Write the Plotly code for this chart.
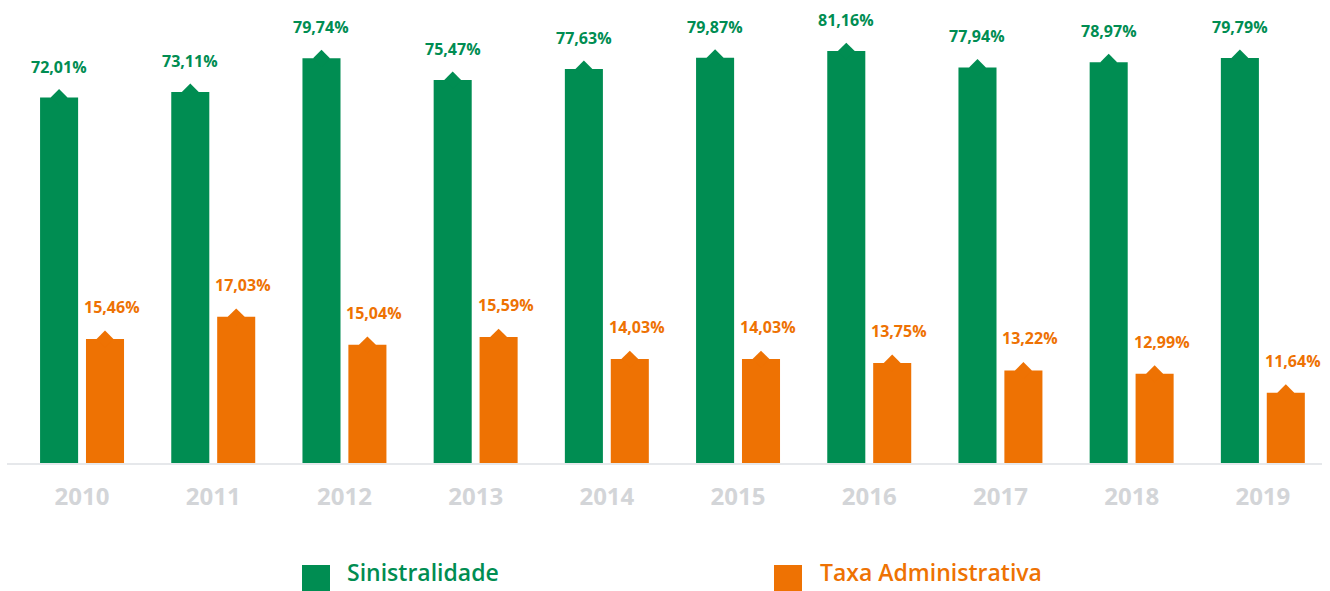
import plotly.graph_objects as go

years = ["2010", "2011", "2012", "2013", "2014", "2015", "2016", "2017", "2018", "2019"]
sinistralidade = [72.01, 73.11, 79.74, 75.47, 77.63, 79.87, 81.16, 77.94, 78.97, 79.79]
taxa_adm = [15.46, 17.03, 15.04, 15.59, 14.03, 14.03, 13.75, 13.22, 12.99, 11.64]
series_names = ["Sinistralidade", "Taxa Administrativa"]

GREEN = "#008D52"
ORANGE = "#EE7203"
GRAY = "#D3D5D8"
FONT = "Open Sans"

W, H = 1330, 591
ML, MR, MT, MB = 7, 8, 0, 128
PW, PH = W - ML - MR, H - MT - MB

idx = list(range(len(years)))
off = 0.175
bw = 0.29
xg = [i - off for i in idx]
xo = [i + off for i in idx]

def fmt(v):
    return f"{v:.2f}".replace(".", ",") + "%"

fig = go.Figure()
fig.add_trace(go.Bar(x=xg, y=sinistralidade, width=bw, marker=dict(color=GREEN, line=dict(width=0)),
                     name=series_names[0], yaxis="y", hoverinfo="skip"))
fig.add_trace(go.Bar(x=xo, y=taxa_adm, width=bw, marker=dict(color=ORANGE, line=dict(width=0)),
                     name=series_names[1], yaxis="y2", hoverinfo="skip"))
fig.add_trace(go.Scatter(x=xg, y=sinistralidade, mode="markers", yaxis="y",
                         marker=dict(symbol="diamond", size=13, color=GREEN, line=dict(width=0)),
                         cliponaxis=False, hoverinfo="skip", showlegend=False))
fig.add_trace(go.Scatter(x=xo, y=taxa_adm, mode="markers", yaxis="y2",
                         marker=dict(symbol="diamond", size=13, color=ORANGE, line=dict(width=0)),
                         cliponaxis=False, hoverinfo="skip", showlegend=False))

annotations = []
for x, v in zip(xg, sinistralidade):
    annotations.append(dict(x=x, y=v, xref="x", yref="y", text=fmt(v), showarrow=False,
                            yanchor="middle", yshift=31,
                            font=dict(family=FONT, size=16, color=GREEN, weight=700)))
for x, v in zip(xo, taxa_adm):
    annotations.append(dict(x=x, y=v, xref="x", yref="y2", text=fmt(v), showarrow=False,
                            yanchor="middle", yshift=32, xshift=7,
                            font=dict(family=FONT, size=16, color=ORANGE, weight=700)))

# legend (manual, large squares)
def px_x(p):
    return (p - ML) / PW

def px_y(p):
    return (H - MB - p) / PH

shapes = []
legend_items = [(series_names[0], GREEN, 302, 345), (series_names[1], ORANGE, 774, 818)]
for name, col, sx, tx in legend_items:
    shapes.append(dict(type="rect", xref="paper", yref="paper",
                       x0=px_x(sx), x1=px_x(sx + 28), y0=px_y(593), y1=px_y(565),
                       fillcolor=col, line=dict(width=0), layer="above"))
    annotations.append(dict(x=px_x(tx), y=px_y(590), xref="paper", yref="paper", text=name,
                            showarrow=False, xanchor="left", yanchor="bottom",
                            font=dict(family=FONT, size=23, color=col, weight=600)))

fig.update_layout(
    width=W, height=H,
    margin=dict(l=ML, r=MR, t=MT, b=MB),
    plot_bgcolor="white", paper_bgcolor="white",
    barmode="overlay",
    showlegend=False,
    xaxis=dict(range=[-0.572, -0.572 + PW / 131.2], tickmode="array", tickvals=idx, ticktext=years,
               showgrid=False, zeroline=False, showline=True, linecolor="#E6E8EB", linewidth=2,
               ticks="", ticklabelstandoff=11,
               tickfont=dict(family=FONT, size=24, color=GRAY, weight=700)),
    yaxis=dict(range=[0, PH / 5.075], visible=False, showgrid=False, zeroline=False),
    yaxis2=dict(range=[6.65, 6.65 + PH / 14.08], overlaying="y", visible=False,
                showgrid=False, zeroline=False),
    annotations=annotations,
    shapes=shapes,
)

fig.write_html("out.html", config={"displayModeBar": False},
               post_script="document.body.style.margin='0';document.body.style.overflow='hidden';")
